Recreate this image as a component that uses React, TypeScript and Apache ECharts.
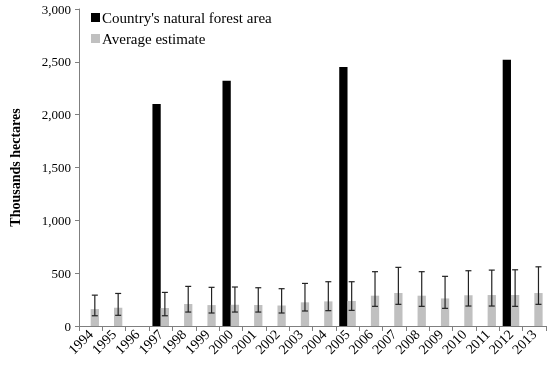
import React, { useEffect, useRef } from "react";
import * as echarts from "echarts";

const years = ["1994","1995","1996","1997","1998","1999","2000","2001","2002","2003","2004","2005","2006","2007","2008","2009","2010","2011","2012","2013"];
const naturalForest = [null, null, null, 2100, null, null, 2320, null, null, null, null, 2450, null, null, null, null, null, null, 2520, null];
const averageEstimate = [160, 173, null, 170, 208, 198, 201, 198, 195, 224, 233, 236, 287, 312, 287, 261, 290, 293, 293, 312];
const errLow = [97, 101, null, 97, 132, 123, 132, 132, 123, 142, 145, 148, 186, 205, 186, 167, 189, 189, 186, 205];
const errHigh = [292, 308, null, 318, 375, 366, 369, 362, 353, 403, 419, 419, 514, 555, 514, 470, 523, 529, 532, 560];

const FONT = "'Liberation Serif', 'Times New Roman', serif";

export default function App() {
  const ref = useRef<HTMLDivElement>(null);
  useEffect(() => {
    if (!ref.current) return;
    const chart = echarts.init(ref.current, null, { renderer: "svg" });
    const errData = years
      .map((_, i) => (errLow[i] == null ? null : [i, errLow[i], errHigh[i]]))
      .filter((d) => d != null);
    chart.setOption({
      animation: false,
      textStyle: { fontFamily: FONT },
      grid: { left: 71, right: 4, top: 9, bottom: 40 },
      legend: {
        left: 86,
        top: 5,
        orient: "vertical",
        itemWidth: 9,
        itemHeight: 9,
        itemGap: 6,
        textStyle: { fontFamily: FONT, fontSize: 15, color: "#000", padding: [0, 0, 0, -3] },
        data: [
          { name: "Country's natural forest area", icon: "rect" },
          { name: "Average estimate", icon: "rect" },
        ],
      },
      xAxis: {
        type: "category",
        data: years,
        axisLine: { lineStyle: { color: "#7f7f7f", width: 1 } },
        axisTick: { show: true, alignWithLabel: false, length: 5, lineStyle: { color: "#7f7f7f" } },
        axisLabel: { rotate: 45, fontFamily: FONT, fontSize: 14, color: "#000", margin: 6, interval: 0 },
        splitLine: { show: false },
      },
      yAxis: {
        type: "value",
        min: 0,
        max: 3000,
        interval: 500,
        name: "Thousands hectares",
        nameLocation: "middle",
        nameGap: 57,
        nameTextStyle: { fontFamily: FONT, fontSize: 14, fontWeight: "bold", color: "#000" },
        axisLine: { show: true, lineStyle: { color: "#7f7f7f", width: 1 } },
        axisTick: { show: true, length: 4, lineStyle: { color: "#7f7f7f" } },
        axisLabel: {
          fontFamily: FONT,
          fontSize: 13,
          color: "#000",
          margin: 8,
          formatter: (v: number) => v.toLocaleString("en-US"),
        },
        splitLine: { show: false },
      },
      series: [
        {
          name: "Country's natural forest area",
          type: "bar",
          data: naturalForest,
          itemStyle: { color: "#000000" },
          barGap: "0%",
          barCategoryGap: "29%",
        },
        {
          name: "Average estimate",
          type: "bar",
          data: averageEstimate,
          itemStyle: { color: "#c0c0c0" },
          barGap: "0%",
          barCategoryGap: "29%",
        },
        {
          name: "err",
          type: "custom",
          data: errData,
          encode: { x: 0, y: [1, 2] },
          z: 10,
          renderItem: (params: any, api: any) => {
            const idx = api.value(0);
            const lo = api.coord([idx, api.value(1)]);
            const hi = api.coord([idx, api.value(2)]);
            const band = api.size([1, 0])[0];
            const x = lo[0] + band * 0.1775;
            const cap = 3;
            const style = { stroke: "#222", lineWidth: 1.2 };
            return {
              type: "group",
              children: [
                { type: "line", shape: { x1: x, y1: lo[1], x2: x, y2: hi[1] }, style },
                { type: "line", shape: { x1: x - cap, y1: hi[1], x2: x + cap, y2: hi[1] }, style },
                { type: "line", shape: { x1: x - cap, y1: lo[1], x2: x + cap, y2: lo[1] }, style },
              ],
            };
          },
        },
      ],
    });
    return () => chart.dispose();
  }, []);
  return <div ref={ref} style={{ width: 550, height: 366, position: "fixed", left: 0, top: 0 }} />;
}
